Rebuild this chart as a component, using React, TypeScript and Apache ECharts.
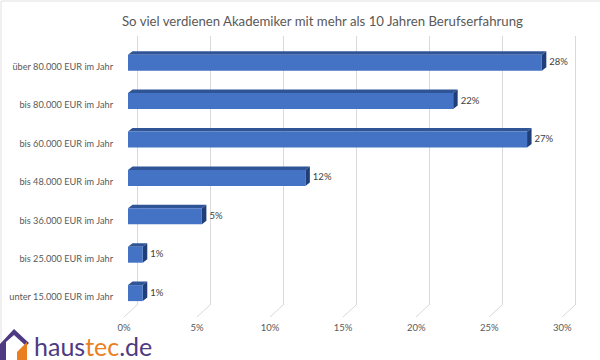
import React, { useEffect, useRef } from "react";
import * as echarts from "echarts";

const titleText = "So viel verdienen Akademiker mit mehr als 10 Jahren Berufserfahrung";
const categories = [
  "über 80.000 EUR im Jahr",
  "bis 80.000 EUR im Jahr",
  "bis 60.000 EUR im Jahr",
  "bis 48.000 EUR im Jahr",
  "bis 36.000 EUR im Jahr",
  "bis 25.000 EUR im Jahr",
  "unter 15.000 EUR im Jahr",
];
const values = [28, 22, 27, 12, 5, 1, 1];
const ticks = [0, 5, 10, 15, 20, 25, 30];

const FONT = "Lato, 'Open Sans', sans-serif";

export default function App() {
  const ref = useRef<HTMLDivElement>(null);
  useEffect(() => {
    if (!ref.current) return;
    const chart = echarts.init(ref.current, null, { renderer: "svg" });
    const barData = values.map((v, i) => [v, i]);
    const option: any = {
      animation: false,
      backgroundColor: "#ffffff",
      title: {
        text: titleText,
        left: 117,
        top: 9,
        textStyle: { fontSize: 13.2, fontWeight: "normal", color: "#595959", fontFamily: FONT },
      },
      grid: [
        { left: 128, right: 28.6, top: 47.3, bottom: 43.9, outerBoundsMode: "none", containLabel: false },
        { left: 137, right: 25, top: 36, bottom: 55, outerBoundsMode: "none", containLabel: false },
        { left: 124, width: 438.3, top: 300, bottom: 40, outerBoundsMode: "none", containLabel: false },
      ],
      xAxis: [
        { gridIndex: 0, type: "value", min: 0, max: 30, show: false },
        {
          gridIndex: 1, type: "value", min: 0, max: 30, interval: 5,
          axisLine: { show: false }, axisTick: { show: false }, axisLabel: { show: false },
          splitLine: { show: true, lineStyle: { color: "#d9d9d9", width: 1 } },
        },
        {
          gridIndex: 2, type: "value", min: 0, max: 30, interval: 5, position: "bottom",
          axisLine: { show: false }, axisTick: { show: false }, splitLine: { show: false },
          axisLabel: {
            margin: 2, color: "#595959", fontSize: 9.5, fontFamily: FONT,
            formatter: (v: number) => v + "%",
          },
        },
      ],
      yAxis: [
        {
          gridIndex: 0, type: "category", data: categories, inverse: true,
          axisLine: { show: false }, axisTick: { show: false }, splitLine: { show: false },
          axisLabel: { margin: 15, color: "#595959", fontSize: 9.2, fontFamily: FONT },
        },
        { gridIndex: 1, type: "value", min: 0, max: 1, show: false },
        { gridIndex: 2, type: "value", min: 0, max: 1, show: false },
      ],
      series: [
        {
          type: "custom",
          xAxisIndex: 1,
          yAxisIndex: 1,
          data: ticks.map((t) => [t, 0]),
          silent: true,
          renderItem: (params: any, api: any) => {
            const p = api.coord([api.value(0), 0]);
            return {
              type: "line",
              shape: { x1: p[0], y1: p[1], x2: p[0] - 13, y2: p[1] + 12 },
              style: { stroke: "#d9d9d9", lineWidth: 1 },
            };
          },
        },
        {
          type: "custom",
          xAxisIndex: 0,
          yAxisIndex: 0,
          data: barData,
          renderItem: (params: any, api: any) => {
            const v = api.value(0);
            const idx = api.value(1);
            const end = api.coord([v, idx]);
            const start = api.coord([0, idx]);
            const c = end[1] - 3.8;
            const h = 8;
            const dx = 4.5;
            const dy = 3.5;
            const x0 = start[0];
            const x1 = end[0];
            const top = c - h;
            const bot = c + h;
            return {
              type: "group",
              children: [
                {
                  type: "polygon",
                  shape: { points: [[x0, top], [x0 + dx, top - dy], [x1 + dx, top - dy], [x1, top]] },
                  style: { fill: "#2f5597" },
                },
                {
                  type: "polygon",
                  shape: { points: [[x1, top], [x1 + dx, top - dy], [x1 + dx, bot - dy], [x1, bot]] },
                  style: { fill: "#203f78" },
                },
                {
                  type: "rect",
                  shape: { x: x0, y: top, width: x1 - x0, height: bot - top },
                  style: { fill: "#4472c4" },
                },
                {
                  type: "text",
                  style: {
                    text: v + "%",
                    x: x1 + dx + 3,
                    y: c - 1,
                    verticalAlign: "middle",
                    align: "left",
                    fill: "#404040",
                    fontSize: 9.5,
                    fontFamily: FONT,
                  },
                },
              ],
            };
          },
        },
      ],
      graphic: [
        {
          type: "rect",
          shape: { x: 1, y: 1, width: 640, height: 400 },
          style: { fill: "none", stroke: "#e0e0e0", lineWidth: 1 },
          silent: true,
        },
        {
          type: "polygon",
          shape: { points: [[0, 344], [14, 329], [29, 343], [26, 346], [14, 335], [6, 342], [6, 360], [0, 360]] },
          style: { fill: "#4e3a82" },
        },
        {
          type: "polygon",
          shape: { points: [[17, 352], [27, 342], [27, 360], [17, 360]] },
          style: { fill: "#ea7f22" },
        },
        {
          type: "text",
          x: 34,
          y: 346,
          style: {
            text: "{p|haus}{o|tec}{p|.de}",
            verticalAlign: "middle",
            rich: {
              p: { fill: "#4e3a82", fontSize: 25, fontFamily: FONT, lineHeight: 20 },
              o: { fill: "#ea7f22", fontSize: 25, fontFamily: FONT, lineHeight: 20 },
            },
          },
        },
      ],
    };
    chart.setOption(option);
    return () => chart.dispose();
  }, []);
  return (
    <div
      ref={ref}
      style={{ position: "fixed", left: 0, top: 0, width: 600, height: 360 }}
    />
  );
}
